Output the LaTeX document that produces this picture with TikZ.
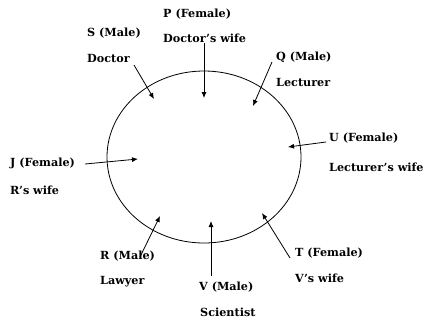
\documentclass[tikz,border=0pt]{standalone}
\usepackage{fontspec}
\setmainfont{DejaVu Serif}
\usetikzlibrary{arrows.meta}
\begin{document}
\begin{tikzpicture}[x=1pt,y=-1pt,
  lbl/.style={anchor=west,inner sep=0pt,font=\bfseries\fontsize{11.2}{12}\selectfont},
  arr/.style={line width=0.8pt,-{Latex[length=6pt,width=5pt]}}]
\useasboundingbox (0,0) rectangle (426,325);
\draw[line width=0.8pt] (204,157) ellipse [x radius=97, y radius=86];
% labels
\node[lbl] (P1) at (163,14) {P (Female)};
\node[lbl] (P2) at (163,38) {Doctor’s wife};
\node[lbl] (S1) at (87,33) {S (Male)};
\node[lbl] (S2) at (87,58) {Doctor};
\node[lbl] (Q1) at (276,57) {Q (Male)};
\node[lbl] (Q2) at (276,82) {Lecturer};
\node[lbl] (U1) at (329,138) {U (Female)};
\node[lbl] (U2) at (329,167) {Lecturer’s wife};
\node[lbl] (J1) at (10,163) {J (Female)};
\node[lbl] (J2) at (10,190) {R’s wife};
\node[lbl] (R1) at (100,256) {R (Male)};
\node[lbl] (R2) at (100,282) {Lawyer};
\node[lbl] (V1) at (199,287) {V (Male)};
\node[lbl] (V2) at (200,312) {Scientist};
\node[lbl] (T1) at (295,253) {T (Female)};
\node[lbl] (T2) at (295,278) {V’s wife};
% arrow end points
\coordinate (sa) at (134,65);  \coordinate (sb) at (154,99);
\coordinate (pa) at (204,43);  \coordinate (pb) at (204,98);
\coordinate (qa) at (272,62);  \coordinate (qb) at (253,106);
\coordinate (ua) at (326,142); \coordinate (ub) at (288,147);
\coordinate (ja) at (85,164);  \coordinate (jb) at (138,159);
\coordinate (ra) at (140,257); \coordinate (rb) at (160,216);
\coordinate (va) at (211,276); \coordinate (vb) at (211,221);
\coordinate (ta) at (290,258); \coordinate (tb) at (262,213);
\draw[arr] (sa) -- (sb);
\draw[arr] (pa) -- (pb);
\draw[arr] (qa) -- (qb);
\draw[arr] (ua) -- (ub);
\draw[arr] (ja) -- (jb);
\draw[arr] (ra) -- (rb);
\draw[arr] (va) -- (vb);
\draw[arr] (ta) -- (tb);
\end{tikzpicture}
\end{document}
